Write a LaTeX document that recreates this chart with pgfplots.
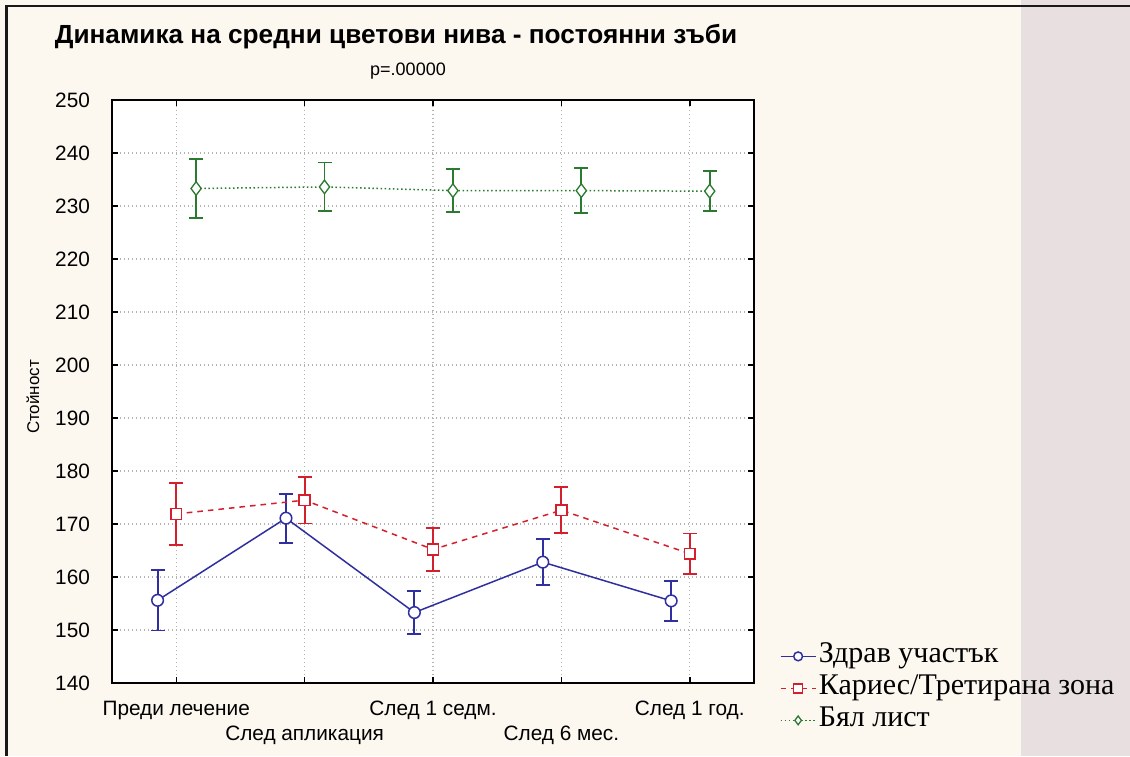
\documentclass[border=0pt]{standalone}
\usepackage{fontspec}
\setmainfont{Liberation Sans}
\newfontfamily\legfont{Liberation Serif}
\usepackage{pgfplots}
\pgfplotsset{compat=1.18}
\definecolor{bgc}{HTML}{FCF8F0}
\definecolor{strip}{HTML}{E8DFE0}
\definecolor{cblue}{HTML}{2F2FA0}
\definecolor{cred}{HTML}{D4202C}
\definecolor{cgreen}{HTML}{2A7A30}
\pgfplotstableread{
x y e
-0.145 155.6 5.7
0.855 171.1 4.6
1.855 153.3 4.0
2.855 162.8 4.3
3.855 155.5 3.8
}\blue
\pgfplotstableread{
x y e
0 171.9 5.8
1 174.5 4.4
2 165.2 4.0
3 172.6 4.3
4 164.4 3.8
}\red
\pgfplotstableread{
x y e
0.155 233.3 5.6
1.155 233.6 4.6
2.155 232.9 4.0
3.155 232.9 4.3
4.155 232.8 3.8
}\green
\begin{document}
\begin{tikzpicture}[x=1pt,y=1pt]
\useasboundingbox (0,0) rectangle (565,378);
\fill[bgc] (0,0) rectangle (565,378);
\fill[strip] (510.5,0) rectangle (565,378);
\draw[black!90, line width=1.3pt] (3.2,0) -- (3.2,375) -- (565,375);
\node[font=\bfseries\fontsize{13.1}{15}\selectfont] at (198,359.5) {Динамика на средни цветови нива - постоянни зъби};
\node[font=\fontsize{9}{11}\selectfont] at (204,342.5) {p=.00000};
\node[font=\fontsize{8.5}{10}\selectfont, rotate=90] at (16.5,179.5) {Стойност};
\begin{axis}[at={(56pt,36.5pt)}, anchor=south west, scale only axis,
  width=321pt, height=291.5pt,
  xmin=-0.5, xmax=4.5, ymin=140, ymax=250,
  ytick={140,150,...,250}, xtick={0,1,2,3,4},
  xticklabels={{Преди лечение},{\strut\\След апликация},{След 1 седм.},{\strut\\След 6 мес.},{След 1 год.}},
  axis background/.style={fill=white},
  axis line style={line width=0.8pt},
  tick align=inside, major tick length=3pt,
  tick style={black, line width=0.7pt},
  grid=major, grid style={gray!60, line width=0.55pt, dash pattern=on 0.6pt off 1.4pt},
  /pgf/number format/assume math mode=true,
  ticklabel style={font=\fontsize{10.4}{12.5}\selectfont},
  xticklabel style={align=center, yshift=-5.5pt, font=\fontsize{10.4}{11.5}\selectfont},
  yticklabel style={xshift=-7.5pt},
  legend style={at={(1.0397,0.0738)}, anchor=north west, draw=none, fill=none,
    font=\legfont\fontsize{15}{16}\selectfont, inner sep=0pt, row sep=0pt,
    nodes={inner xsep=1.25pt, inner ysep=0pt, text height=11pt, text depth=5pt}},
  legend cell align=left,
  legend image code/.code={\draw[mark repeat=2,mark phase=2, mark size=2.2pt] plot coordinates {(0pt,0pt)(8.75pt,0pt)(17.5pt,0pt)};},
  clip=false,
]
\addplot[cblue, line width=0.75pt, mark=*, mark size=2.9pt, mark options={solid, fill=white, draw=cblue, line width=0.75pt},
  error bars/.cd, y dir=both, y explicit,
  error bar style={line width=0.95pt, solid},
  error mark options={rotate=90, mark size=3.5pt, line width=0.95pt, solid}]
  table[x=x, y=y, y error=e] {\blue};
\addlegendentry{Здрав участък}
\addplot[cred, line width=0.75pt, dash pattern=on 2.8pt off 2.5pt, mark=square*, mark size=2.7pt, mark options={solid, fill=white, draw=cred, line width=0.75pt},
  error bars/.cd, y dir=both, y explicit,
  error bar style={line width=0.95pt, solid},
  error mark options={rotate=90, mark size=3.5pt, line width=0.95pt, solid}]
  table[x=x, y=y, y error=e] {\red};
\addlegendentry{Кариес/Третирана зона}
\addplot[cgreen, line width=0.75pt, dash pattern=on 0.75pt off 1.3pt, mark=diamond*, mark size=3.4pt, mark options={solid, fill=white, draw=cgreen, line width=0.65pt},
  error bars/.cd, y dir=both, y explicit,
  error bar style={line width=0.95pt, solid},
  error mark options={rotate=90, mark size=3.5pt, line width=0.95pt, solid}]
  table[x=x, y=y, y error=e] {\green};
\addlegendentry{Бял лист}
\end{axis}
\end{tikzpicture}
\end{document}
